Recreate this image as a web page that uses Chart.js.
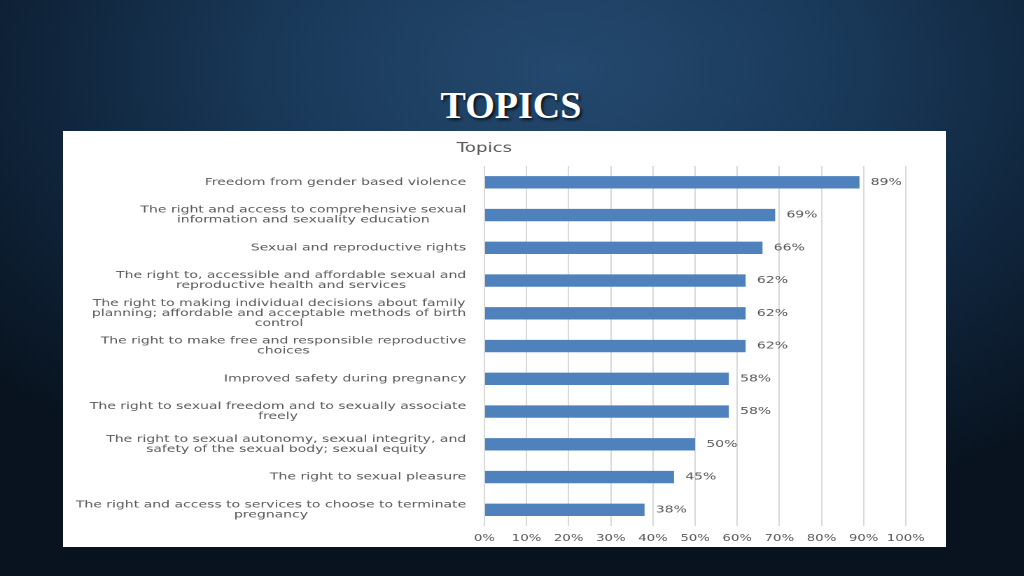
<!DOCTYPE html>
<html>
<head>
<meta charset="utf-8">
<script src="https://cdn.jsdelivr.net/npm/chart.js@4.4.0/dist/chart.umd.min.js"></script>
<style>
    html, body {
        margin: 0;
        padding: 0;
    }

    body {
        width: 1024px;
        height: 576px;
        overflow: hidden;
        position: relative;
        background: radial-gradient(ellipse 75% 80% at 55% 12%, #24496e 0%, #1a3a5b 35%, #0f2339 70%, #08131f 100%);
    }

    #titulo {
        position: absolute;
        left: 0;
        width: 1022px;
        top: 86px;
        text-align: center;
        font-family: "Liberation Serif", serif;
        font-weight: bold;
        font-size: 38px;
        line-height: 38px;
        color: #ffffff;
        text-shadow: 2px 2px 3px rgba(0, 0, 0, 0.75);
    }

    #quadro {
        position: absolute;
        left: 63px;
        top: 131px;
        width: 883px;
        height: 416px;
        background: #ffffff;
        overflow: hidden;
    }

    #esticado {
        width: 631px;
        height: 416px;
        transform: scaleX(1.4);
        transform-origin: 0 0;
    }
</style>
</head>
<body>
<div id="titulo">TOPICS</div>
<div id="quadro">
    <div id="esticado">
        <canvas id="graficoTopicos" width="631" height="416"></canvas>
    </div>
</div>

<script>
const categorias = [
    "Freedom from gender based violence",
    ["The right and access to comprehensive sexual", "information and sexuality education"],
    "Sexual and reproductive rights",
    ["The right to, accessible and affordable sexual and", "reproductive health and services"],
    ["The right to making individual decisions about family", "planning; affordable and acceptable methods of birth", "control"],
    ["The right to make free and responsible reproductive", "choices"],
    "Improved safety during pregnancy",
    ["The right to sexual freedom and to sexually associate", "freely"],
    ["The right to sexual autonomy, sexual integrity, and", "safety of the sexual body; sexual equity"],
    "The right to sexual pleasure",
    ["The right and access to services to choose to terminate", "pregnancy"]
];

const percentuais = [89, 69, 66, 62, 62, 62, 58, 58, 50, 45, 38];

const ticksX = [0, 10, 20, 30, 40, 50, 60, 70, 80, 90, 100];

const CINZA = "#595959";
const FONTE = '"DejaVu Sans", sans-serif';

Chart.defaults.font.family = FONTE;

// rotulos das categorias (centrados por bloco) e valores no fim das barras
const rotulosPlugin = {
    id: "rotulos",
    afterDraw(chart) {
        const ctx = chart.ctx;
        const escalaY = chart.scales.y;
        const area = chart.chartArea;
        const alturaLinha = 10;

        ctx.save();
        ctx.fillStyle = CINZA;
        ctx.textBaseline = "middle";
        ctx.font = "10px " + FONTE;
        ctx.textAlign = "center";

        categorias.forEach((rotulo, i) => {
            const linhas = Array.isArray(rotulo) ? rotulo : [rotulo];
            const largura = Math.max(...linhas.map(l => ctx.measureText(l).width));
            const cx = area.left - 13 - largura / 2;
            const cy = escalaY.getPixelForTick(i);

            linhas.forEach((linha, j) => {
                ctx.fillText(linha, cx, cy + (j - (linhas.length - 1) / 2) * alturaLinha);
            });
        });

        ctx.textAlign = "left";
        const meta = chart.getDatasetMeta(0);
        meta.data.forEach((barra, i) => {
            ctx.fillText(percentuais[i] + "%", barra.x + 8, barra.y);
        });

        ctx.restore();
    }
};

new Chart(document.getElementById("graficoTopicos"), {
    type: "bar",
    data: {
        labels: categorias,
        datasets: [
            {
                data: percentuais,
                backgroundColor: "#4f81bd",
                borderWidth: 0,
                barPercentage: 0.9,
                categoryPercentage: 0.42
            }
        ]
    },
    options: {
        indexAxis: "y",
        responsive: false,
        animation: false,
        devicePixelRatio: 2,
        layout: {
            padding: {
                left: 0,
                right: 29,
                top: 0,
                bottom: -3.6
            }
        },
        plugins: {
            legend: {
                display: false
            },
            tooltip: {
                enabled: false
            },
            title: {
                display: true,
                text: "Topics",
                color: CINZA,
                font: {
                    family: FONTE,
                    size: 13,
                    weight: "normal"
                },
                padding: {
                    top: 10,
                    bottom: 9.4
                }
            }
        },
        scales: {
            x: {
                min: 0,
                max: 100,
                afterBuildTicks: escala => {
                    escala.ticks = ticksX.map(v => ({ value: v }));
                },
                grid: {
                    color: "#d9d9d9",
                    drawTicks: false
                },
                border: {
                    display: false
                },
                ticks: {
                    color: CINZA,
                    padding: 6.5,
                    maxRotation: 0,
                    autoSkip: false,
                    font: {
                        size: 9.5
                    },
                    callback: valor => valor + "%"
                }
            },
            y: {
                grid: {
                    display: false
                },
                border: {
                    display: false
                },
                ticks: {
                    display: false
                },
                afterFit: escala => {
                    escala.width = 301;
                }
            }
        }
    },
    plugins: [rotulosPlugin]
});
</script>
</body>
</html>
